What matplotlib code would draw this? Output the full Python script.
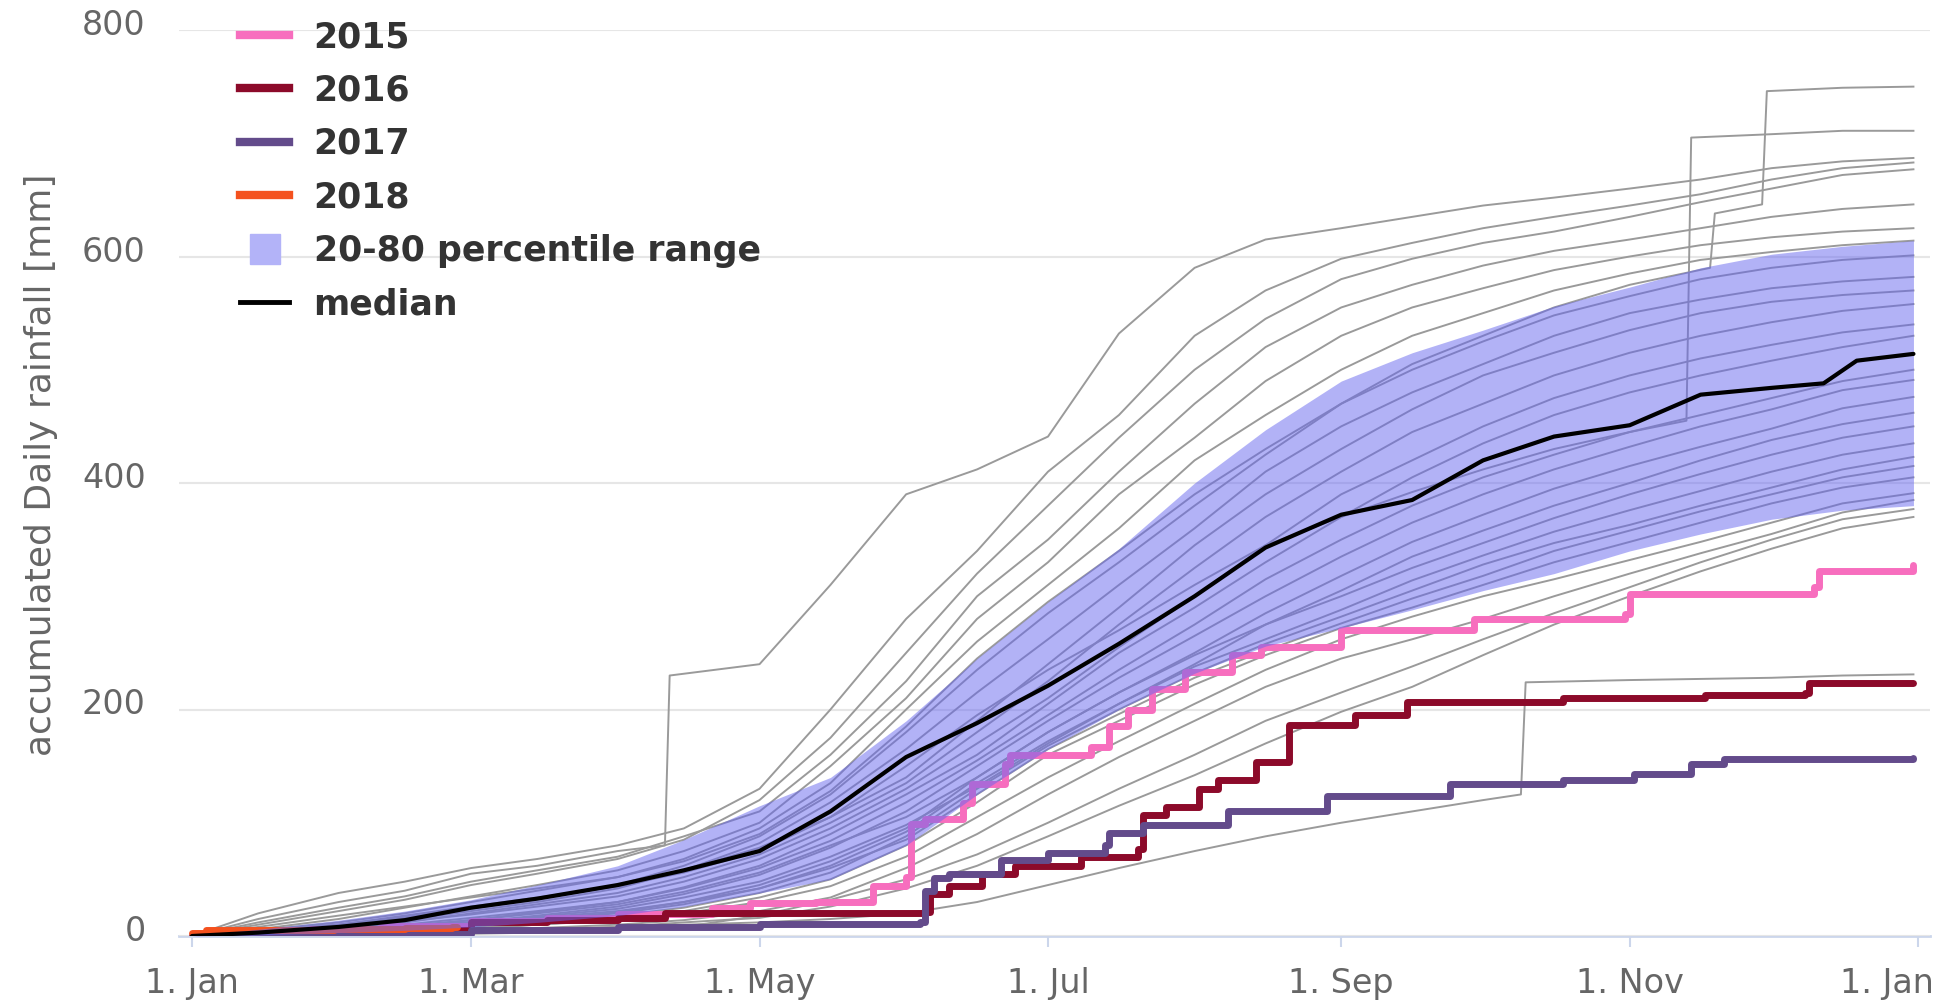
import matplotlib
matplotlib.use("Agg")
import matplotlib.pyplot as plt
from matplotlib.lines import Line2D
from matplotlib.transforms import ScaledTranslation

# ── Data (day of year, accumulated rainfall in mm) ───────────────────────────
# half-monthly checkpoints used for the historic years and the band
days = [0, 14, 31, 45, 59, 73, 90, 104, 120, 135, 151, 166, 181, 196, 212,
        227, 243, 258, 273, 288, 304, 319, 334, 349, 364]

band_upper = [0, 6, 14, 22, 32, 45, 62, 85, 115, 140, 190, 245, 295, 342, 400,
              447, 490, 515, 535, 556, 573, 590, 602, 609, 614]
band_lower = [0, 1, 3, 5, 8, 12, 18, 26, 38, 50, 80, 125, 165, 200, 232,
              256, 272, 288, 305, 320, 340, 355, 368, 376, 380]

median_days = [0, 14, 31, 45, 59, 73, 90, 104, 120, 135, 151, 166, 181, 196,
               212, 227, 243, 258, 273, 288, 304, 319, 334, 345, 352, 364]
median_vals = [0, 3, 8, 14, 25, 33, 45, 58, 75, 110, 158, 188, 221, 258,
               300, 343, 372, 385, 420, 441, 451, 478, 484, 488, 508, 514]

# other years (grey), values at `days`
other_years = [
    [0, 20, 38, 48, 60, 68, 80, 95, 130, 200, 280, 340, 410, 460, 530, 570, 598, 612, 625, 635, 645, 655, 668, 678, 683],
    [0, 10, 22, 32, 45, 55, 68, 85, 120, 175, 250, 320, 380, 440, 500, 545, 580, 598, 612, 622, 635, 648, 660, 672, 677],
    [0, 12, 25, 35, 48, 58, 70, 88, 110, 160, 225, 300, 350, 410, 470, 520, 555, 575, 592, 605, 615, 625, 635, 642, 646],
    [0, 6, 15, 25, 35, 45, 58, 75, 100, 150, 210, 280, 330, 390, 440, 490, 530, 555, 572, 588, 600, 610, 617, 622, 625],
    [0, 5, 12, 20, 30, 40, 52, 68, 95, 135, 200, 260, 310, 360, 420, 460, 500, 530, 550, 570, 585, 597, 604, 610, 614],
    [0, 3, 9, 16, 24, 33, 45, 62, 88, 125, 180, 235, 285, 330, 380, 425, 470, 500, 525, 548, 565, 580, 590, 597, 601],
    [0, 2, 8, 14, 22, 30, 42, 58, 82, 118, 165, 215, 262, 310, 360, 410, 450, 480, 505, 530, 550, 562, 572, 578, 582],
    [0, 4, 10, 17, 25, 33, 44, 58, 78, 105, 140, 190, 240, 290, 345, 390, 430, 465, 495, 515, 535, 550, 560, 566, 570],
    [0, 2, 6, 12, 20, 28, 38, 52, 72, 100, 135, 180, 225, 275, 325, 370, 410, 445, 470, 495, 515, 530, 542, 552, 558],
    [0, 3, 8, 13, 19, 26, 35, 48, 68, 95, 130, 170, 210, 255, 300, 345, 390, 420, 450, 475, 495, 510, 522, 533, 540],
    [0, 1, 4, 8, 14, 21, 30, 43, 62, 90, 125, 160, 205, 250, 290, 330, 370, 405, 435, 460, 480, 495, 508, 520, 530],
    [0, 2, 6, 10, 16, 22, 30, 42, 60, 84, 118, 155, 195, 235, 275, 315, 350, 380, 405, 425, 445, 460, 475, 490, 500],
    [0, 1, 3, 7, 12, 18, 26, 37, 54, 78, 110, 150, 190, 228, 265, 300, 335, 365, 390, 412, 432, 450, 465, 482, 491],
    [0, 2, 5, 9, 14, 20, 28, 39, 56, 80, 105, 140, 180, 215, 250, 285, 318, 348, 372, 395, 415, 432, 448, 466, 476],
    [0, 1, 4, 8, 12, 17, 24, 34, 48, 70, 98, 132, 170, 205, 240, 275, 305, 335, 358, 380, 400, 420, 438, 452, 462],
    [0, 0, 2, 5, 9, 14, 21, 30, 45, 66, 95, 140, 180, 215, 248, 275, 300, 325, 347, 369, 390, 408, 425, 440, 450],
    [0, 1, 3, 6, 10, 15, 20, 28, 42, 62, 92, 135, 172, 205, 238, 262, 288, 314, 336, 357, 376, 393, 410, 425, 435],
    [0, 0, 2, 4, 8, 12, 18, 25, 38, 56, 88, 130, 168, 200, 232, 258, 282, 305, 328, 347, 363, 380, 396, 412, 423],
    [0, 2, 5, 8, 12, 16, 22, 30, 42, 60, 85, 125, 165, 196, 228, 252, 276, 298, 318, 340, 358, 375, 390, 405, 415],
    [0, 0, 1, 3, 6, 10, 15, 22, 34, 50, 80, 118, 160, 190, 222, 248, 272, 290, 310, 330, 348, 365, 382, 396, 405],
    [0, 1, 2, 4, 7, 10, 14, 20, 30, 44, 70, 105, 140, 172, 205, 235, 262, 282, 300, 315, 332, 348, 365, 382, 391],
    [0, 0, 1, 2, 4, 7, 10, 14, 22, 34, 60, 90, 125, 158, 190, 220, 245, 262, 280, 300, 320, 338, 355, 374, 385],
    [0, 0, 0, 1, 2, 3, 5, 8, 18, 32, 50, 72, 100, 130, 160, 190, 215, 238, 262, 285, 308, 330, 350, 368, 377],
    [0, 0, 1, 2, 3, 5, 8, 12, 16, 26, 42, 62, 88, 115, 142, 170, 198, 220, 248, 275, 300, 322, 342, 360, 370],
]

# grey years with a single very wet day, kept with their own dates
jump_a_days = [0, 14, 31, 45, 59, 73, 90, 104, 120, 135, 151, 166, 181, 196, 212, 227,
               243, 258, 273, 288, 304, 321, 322, 332, 333, 349, 364]
jump_a_vals = [0, 8, 18, 26, 34, 42, 52, 66, 90, 128, 185, 245, 295, 340, 390, 430,
               470, 505, 530, 555, 575, 590, 638, 646, 746, 749, 750]
jump_b_days = [0, 14, 31, 45, 59, 73, 90, 104, 120, 135, 151, 166, 181, 196, 212, 227,
               243, 258, 273, 288, 304, 316, 317, 334, 349, 364]
jump_b_vals = [0, 4, 10, 18, 26, 34, 44, 56, 75, 105, 150, 195, 235, 270, 310, 345,
               370, 392, 412, 430, 445, 455, 705, 708, 711, 711]
jump_c_days = [0, 14, 31, 45, 59, 73, 90, 100, 101, 120, 135, 151, 166, 181, 196, 212,
               227, 243, 258, 273, 288, 304, 319, 334, 349, 364]
jump_c_vals = [0, 15, 30, 40, 55, 62, 75, 80, 230, 240, 310, 390, 412, 441, 532, 590,
               615, 625, 635, 645, 652, 660, 668, 678, 684, 687]
jump_d_days = [0, 14, 31, 45, 59, 73, 90, 104, 120, 135, 151, 166, 181, 196, 212, 227,
               243, 258, 273, 281, 282, 304, 319, 334, 349, 364]
jump_d_vals = [0, 1, 2, 3, 4, 6, 8, 10, 12, 15, 20, 30, 45, 60, 75, 88,
               100, 110, 120, 125, 224, 226, 227, 228, 230, 231]

y2015_days = [0, 10, 25, 40, 59, 75, 90, 110, 118, 132, 144, 151, 152, 155, 163, 165,
              172, 173, 190, 194, 198, 203, 210, 220, 226, 243, 271, 303, 304, 343, 344, 364]
y2015_vals = [0, 3, 6, 9, 13, 16, 19, 25, 29, 30, 44, 52, 99, 103, 117, 134,
              152, 160, 167, 185, 200, 218, 233, 248, 255, 270, 280, 284, 302, 308, 322, 328]

y2016_days = [0, 15, 31, 59, 75, 90, 100, 155, 156, 160, 167, 174, 188, 200, 201, 206,
              213, 217, 225, 232, 246, 257, 290, 320, 341, 342, 364]
y2016_vals = [0, 3, 5, 12, 14, 16, 20, 21, 37, 44, 55, 62, 70, 77, 107, 114,
              130, 138, 154, 186, 195, 207, 210, 213, 215, 223, 223]

y2017_days = [0, 30, 59, 90, 120, 154, 155, 157, 160, 171, 181, 193, 194, 201, 219,
              240, 266, 290, 305, 317, 324, 364]
y2017_vals = [0, 2, 5, 8, 11, 12, 40, 51, 55, 67, 73, 80, 91, 98, 110,
              124, 134, 138, 143, 152, 156, 157]

y2018_days = [0, 3, 30, 45, 55, 56]
y2018_vals = [3, 5, 6, 7, 8, 8]

tick_days = [0, 59, 120, 181, 243, 304, 365]
tick_labels = ["1. Jan", "1. Mar", "1. May", "1. Jul", "1. Sep", "1. Nov", "1. Jan"]

# ── Style ────────────────────────────────────────────────────────────────────
C2015, C2016, C2017, C2018 = "#f76ebe", "#8c0a2a", "#634b8b", "#f4511e"
GREY = "#9a9a9a"
BAND = "#6666ee"
AXIS = "#ccd6eb"
LABEL = "#666666"

fig = plt.figure(figsize=(19.34, 10), dpi=100)
fig.patch.set_facecolor("white")
ax = fig.add_axes([179 / 1934, 64 / 1000, 1751 / 1934, 906 / 1000])

for vals in other_years:
    ax.plot(days, vals, color=GREY, lw=1.4, zorder=1)
for d, v in [(jump_a_days, jump_a_vals), (jump_b_days, jump_b_vals),
             (jump_c_days, jump_c_vals), (jump_d_days, jump_d_vals)]:
    ax.plot(d, v, color=GREY, lw=1.4, zorder=1)

for d, v, c in [(y2015_days, y2015_vals, C2015), (y2016_days, y2016_vals, C2016),
                (y2017_days, y2017_vals, C2017), (y2018_days, y2018_vals, C2018)]:
    ax.plot(d, v, drawstyle="steps-post", color=c, lw=5,
            solid_capstyle="round", solid_joinstyle="round", zorder=2)

ax.fill_between(days, band_lower, band_upper, color=BAND, alpha=0.5,
                linewidth=0, zorder=3)
ax.plot(median_days, median_vals, color="black", lw=3,
        solid_capstyle="round", zorder=4)

ax.set_xlim(-2.75, 367.5)
ax.set_ylim(0, 800)
ax.set_yticks([0, 200, 400, 600, 800])
ax.grid(axis="y", color="#e6e6e6", lw=1.5)
ax.set_axisbelow(True)
for s in ["top", "right", "left"]:
    ax.spines[s].set_visible(False)
ax.spines["bottom"].set_color(AXIS)
ax.spines["bottom"].set_linewidth(2)
ax.spines["bottom"].set_zorder(0.5)

ax.set_xticks(tick_days)
ax.set_xticklabels(tick_labels)
ax.tick_params(axis="x", length=8, width=1.5, color=AXIS, pad=14,
               labelsize=24, labelcolor=LABEL)
ax.tick_params(axis="y", length=0, pad=24, labelsize=24, labelcolor=LABEL)
for lab in ax.get_yticklabels():
    lab.set_transform(lab.get_transform() + ScaledTranslation(0, 8 / 100, fig.dpi_scale_trans))
last = ax.get_xticklabels()[-1]
last.set_ha("right")
last.set_transform(last.get_transform() + ScaledTranslation(16 / 100, 0, fig.dpi_scale_trans))

ax.set_ylabel("accumulated Daily rainfall [mm]", fontsize=26, color=LABEL)
ax.yaxis.set_label_coords(-0.069, 0.52)

handles = [
    Line2D([], [], color=C2015, lw=6),
    Line2D([], [], color=C2016, lw=6),
    Line2D([], [], color=C2017, lw=6),
    Line2D([], [], color=C2018, lw=6),
    Line2D([], [], color="#b3b3f8", marker="s", markersize=22, linestyle="none"),
    Line2D([], [], color="black", lw=3.5),
]
labels = ["2015", "2016", "2017", "2018", "20-80 percentile range", "median"]
leg = fig.legend(handles, labels, loc="upper left", bbox_to_anchor=(240 / 1934, 0.980),
                 frameon=False, borderpad=0, borderaxespad=0, handlelength=1.42,
                 handletextpad=0.70, labelspacing=0.56,
                 prop={"size": 25, "weight": "bold"})
for t in leg.get_texts():
    t.set_color("#333333")

plt.savefig("out.png", dpi=100, facecolor="white")
plt.close()
